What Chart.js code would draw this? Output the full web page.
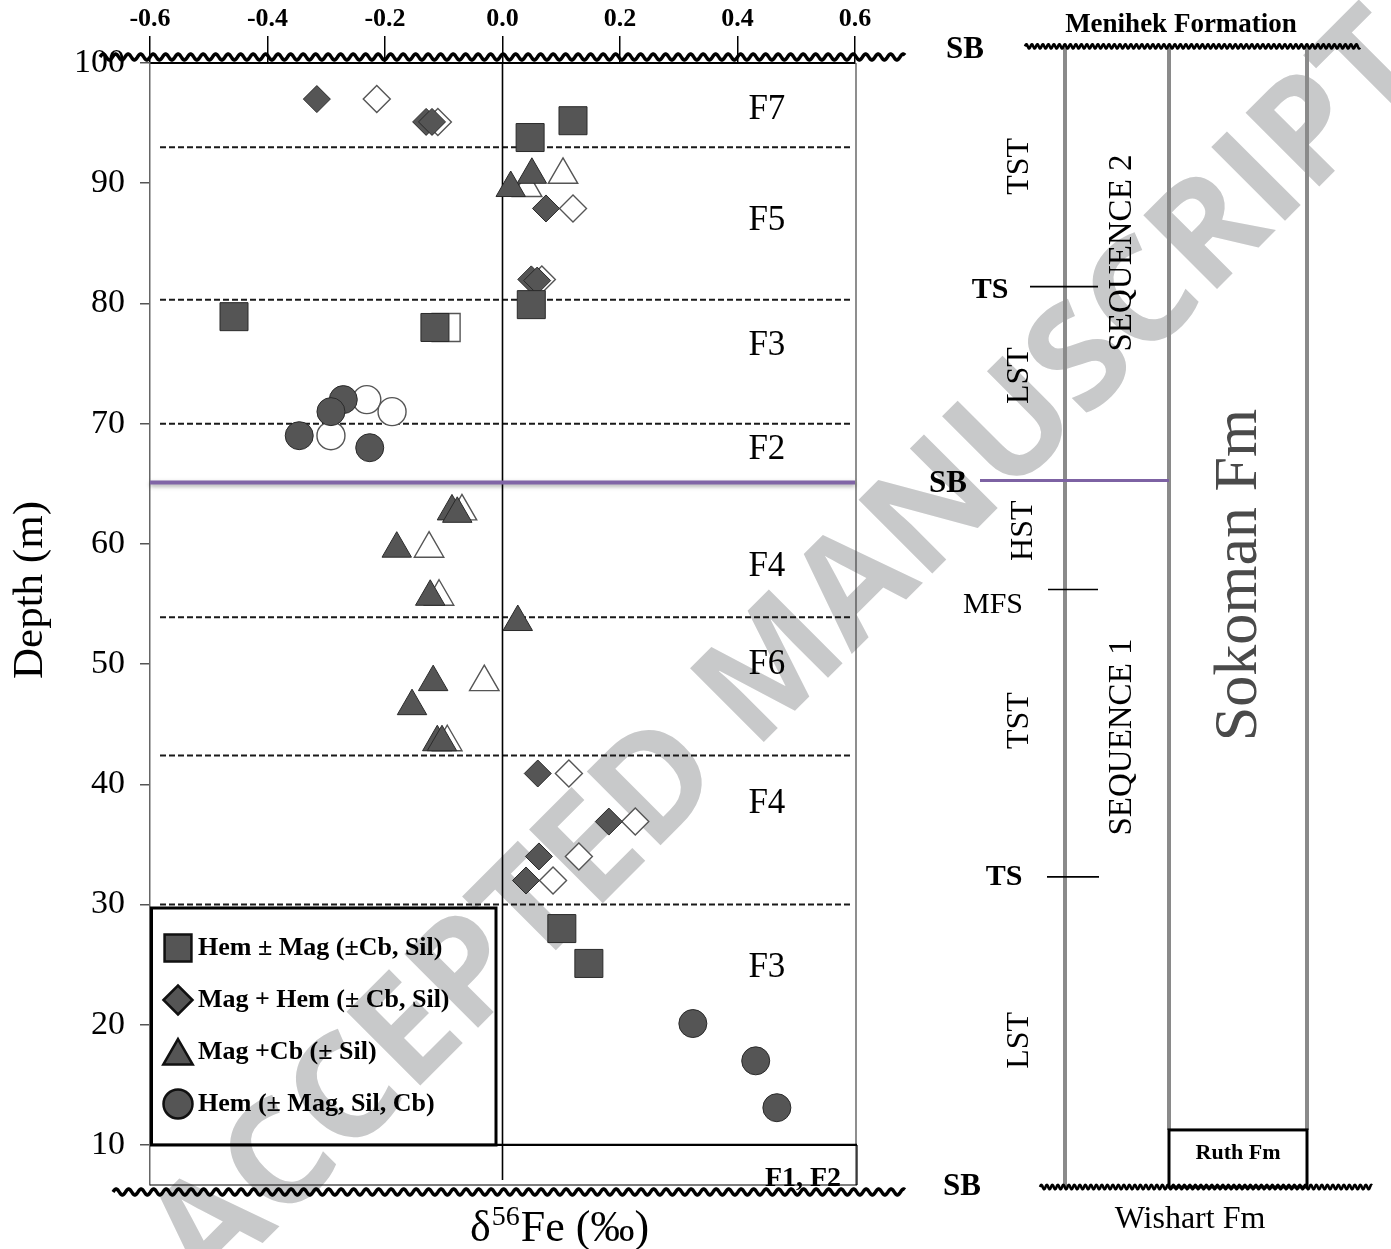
<!DOCTYPE html>
<html><head><meta charset="utf-8">
<script src="https://cdn.jsdelivr.net/npm/chart.js@4.4.1/dist/chart.umd.min.js"></script>
<style>html,body{margin:0;padding:0;background:#fff;overflow:hidden}#wrap{width:1391px;height:1249px;position:relative}</style>
</head><body><div id="wrap"><canvas id="c"></canvas></div>
<script>
// ---------- data ----------
const xTicks = [-0.6, -0.4, -0.2, 0.0, 0.2, 0.4, 0.6];
const yTicks = [10, 20, 30, 40, 50, 60, 70, 80, 90, 100];
const seriesNames = ['Hem \u00b1 Mag (\u00b1Cb, Sil)', 'Mag + Hem (\u00b1 Cb, Sil)', 'Mag +Cb (\u00b1 Sil)', 'Hem (\u00b1 Mag, Sil, Cb)'];

const hemMagX = [0.120, 0.047, -0.457, -0.115, 0.049, 0.101, 0.147];
const hemMagY = [95.2, 93.8, 78.9, 78.0, 79.9, 28.0, 25.1];
const hemMagOpenX = [-0.096];
const hemMagOpenY = [78.0];

const magHemX = [-0.316, -0.130, -0.120, 0.074, 0.049, 0.059, 0.060, 0.181, 0.062, 0.040];
const magHemY = [97.0, 95.1, 95.1, 87.9, 82.0, 81.9, 40.9, 36.9, 34.0, 32.0];
const magHemOpenX = [-0.214, -0.110, 0.120, 0.067, 0.113, 0.226, 0.130, 0.086];
const magHemOpenY = [97.0, 95.1, 87.9, 82.0, 40.9, 36.9, 34.0, 32.0];

const magCbX = [0.050, 0.014, -0.086, -0.077, -0.180, -0.123, 0.026, -0.118, -0.154, -0.111, -0.103];
const magCbY = [90.7, 89.6, 62.7, 62.5, 59.6, 55.6, 53.5, 48.5, 46.5, 43.5, 43.5];
const magCbOpenX = [0.103, 0.042, -0.069, -0.125, -0.108, -0.031, -0.094];
const magCbOpenY = [90.7, 89.6, 62.7, 59.6, 55.6, 48.5, 43.5];

const hemX = [-0.271, -0.292, -0.346, -0.226, 0.324, 0.431, 0.467];
const hemY = [72.0, 71.0, 69.0, 68.0, 20.1, 17.0, 13.1];
const hemOpenX = [-0.231, -0.188, -0.292];
const hemOpenY = [72.0, 71.0, 69.0];

const faciesBoundaries = [93.0, 80.3, 70.0, 53.9, 42.4, 30.0];
const sequenceBoundary = 65.1;
const baseDepth = 10;
const zoneLabels = ['F7', 'F5', 'F3', 'F2', 'F4', 'F6', 'F4', 'F3'];
const zoneDepths = [96.1, 86.9, 76.5, 67.8, 58.1, 49.9, 38.4, 24.7];

// stratigraphic column (depths)
const stratTop = 101.3, stratBase = 6.5, ruthTop = 11.25;
const surfaceNames = ['TS', 'MFS', 'TS'];
const surfaceDepths = [81.4, 56.2, 32.3];
const tractNames = ['TST', 'LST', 'HST', 'TST', 'LST'];
const tractDepths = [91.4, 74.0, 61.1, 45.3, 18.7];

// ---------- style ----------
const SERIF = '"Liberation Serif", "Times New Roman", serif';
const FILL = '#555555';

function ds(label, xs, ys, style, radius, filled) {
  return {
    label,
    data: xs.map((x, i) => ({ x, y: ys[i] })),
    pointStyle: style,
    pointRadius: radius,
    pointHoverRadius: radius,
    pointBackgroundColor: filled ? FILL : '#ffffff',
    pointBorderColor: filled ? '#2a2a2a' : '#555555',
    pointBorderWidth: filled ? 1 : 1.4,
    showLine: false
  };
}

const datasets = [
  ds(seriesNames[0], hemMagX, hemMagY, 'rect', 19.8, true),
  ds(seriesNames[1], magHemX, magHemY, 'rectRot', 13.5, true),
  ds(seriesNames[2], magCbX, magCbY, 'triangle', 17, true),
  ds(seriesNames[3], hemX, hemY, 'circle', 14, true),
  ds(seriesNames[0] + ' (open)', hemMagOpenX, hemMagOpenY, 'rect', 19.8, false),
  ds(seriesNames[1] + ' (open)', magHemOpenX, magHemOpenY, 'rectRot', 13.5, false),
  ds(seriesNames[2] + ' (open)', magCbOpenX, magCbOpenY, 'triangle', 17, false),
  ds(seriesNames[3] + ' (open)', hemOpenX, hemOpenY, 'circle', 14, false)
];

function wavy(ctx, x0, x1, yc, amp, period, lw) {
  ctx.save();
  ctx.beginPath();
  for (let x = x0; x <= x1; x += 0.5) {
    const y = yc - amp * Math.sin(2 * Math.PI * (x - x0) / period);
    if (x === x0) ctx.moveTo(x, y); else ctx.lineTo(x, y);
  }
  ctx.strokeStyle = '#000';
  ctx.lineWidth = lw;
  ctx.lineJoin = 'round';
  ctx.stroke();
  ctx.restore();
}
function line(ctx, x0, y0, x1, y1) { ctx.beginPath(); ctx.moveTo(x0, y0); ctx.lineTo(x1, y1); ctx.stroke(); }
function rtext(ctx, t, x, y, font, color) {
  ctx.save(); ctx.translate(x, y); ctx.rotate(-Math.PI / 2);
  ctx.font = font; ctx.fillStyle = color || '#000'; ctx.textAlign = 'center'; ctx.textBaseline = 'middle';
  ctx.fillText(t, 0, 0); ctx.restore();
}
function text(ctx, t, x, y, font, align, color) {
  ctx.font = font; ctx.fillStyle = color || '#000'; ctx.textAlign = align || 'center'; ctx.textBaseline = 'middle';
  ctx.fillText(t, x, y);
}

const deco = {
  id: 'deco',
  beforeDraw(chart) {
    const ctx = chart.ctx;
    ctx.save();
    ctx.fillStyle = '#fff';
    ctx.fillRect(0, 0, chart.width, chart.height);
    // watermark
    ctx.save();
    ctx.translate(792, 655);
    ctx.rotate(-Math.PI / 4);
    ctx.font = 'bold 146px "Open Sans", "DejaVu Sans", sans-serif';
    ctx.fillStyle = '#c8c9ca';
    ctx.textAlign = 'center'; ctx.textBaseline = 'middle';
    ctx.fillText('ACCEPTED MANUSCRIPT', 0, 0);
    ctx.restore();
    // wavy unconformities of the plot
    wavy(ctx, 100, 905, 57, 3, 12.5, 3.5);
    wavy(ctx, 113, 905, 1192, 3, 12.5, 3.5);
    ctx.restore();
  },
  beforeDatasetsDraw(chart) {
    const ctx = chart.ctx, a = chart.chartArea;
    const xs = chart.scales.x, ys = chart.scales.y;
    ctx.save();
    // facies boundaries
    ctx.strokeStyle = '#1a1a1a'; ctx.lineWidth = 2; ctx.setLineDash([6, 3]);
    faciesBoundaries.forEach(d => { const y = ys.getPixelForValue(d); line(ctx, a.left + 10, y, a.right - 2, y); });
    ctx.setLineDash([]);
    // right border
    ctx.strokeStyle = '#444'; ctx.lineWidth = 1.2;
    line(ctx, a.right + 1, a.top, a.right + 1, a.bottom);
    // zero line
    ctx.strokeStyle = '#000'; ctx.lineWidth = 1.6;
    const x0 = xs.getPixelForValue(0);
    line(ctx, x0, a.top, x0, a.bottom - 5);
    // base box (F1, F2)
    const yb = ys.getPixelForValue(baseDepth);
    ctx.lineWidth = 2.2; line(ctx, a.left, yb, a.right + 2, yb);
    ctx.lineWidth = 1.2; line(ctx, a.left, a.bottom, a.right + 2, a.bottom);
    line(ctx, a.right + 2, yb, a.right + 2, a.bottom);
    ctx.font = 'bold 28px ' + SERIF; ctx.fillStyle = '#000'; ctx.textAlign = 'center'; ctx.textBaseline = 'alphabetic';
    ctx.fillText('F1, F2', 803, a.bottom + 1);
    // sequence boundary
    ctx.save();
    ctx.shadowColor = 'rgba(0,0,0,0.35)'; ctx.shadowBlur = 4; ctx.shadowOffsetY = 2;
    ctx.strokeStyle = '#8064a6'; ctx.lineWidth = 4;
    const ysb = ys.getPixelForValue(sequenceBoundary);
    line(ctx, a.left, ysb, a.right, ysb);
    ctx.restore();
    // facies labels
    zoneLabels.forEach((t, i) => text(ctx, t, xs.getPixelForValue(0.45), ys.getPixelForValue(zoneDepths[i]), '35px ' + SERIF));
    ctx.restore();
  },
  afterDraw(chart) {
    const ctx = chart.ctx, a = chart.chartArea, ys = chart.scales.y;
    const H = Chart.helpers;
    ctx.save();
    // legend
    ctx.strokeStyle = '#000'; ctx.lineWidth = 3;
    ctx.strokeRect(151.5, 908, 344.5, 237);
    const styles = ['rect', 'rectRot', 'triangle', 'circle'];
    const radii = [19, 14.5, 17, 14.5];
    const rows = [948, 1000, 1052, 1104];
    const offs = [0, 0, 4, 0];
    styles.forEach((s, i) => {
      ctx.fillStyle = FILL; ctx.strokeStyle = '#111'; ctx.lineWidth = 2.5;
      H.drawPoint(ctx, { pointStyle: s, radius: radii[i], rotation: 0, borderWidth: 2.5 }, 178, rows[i] + offs[i]);
      text(ctx, seriesNames[i], 198, rows[i], 'bold 26px ' + SERIF, 'left');
    });
    // axis titles
    rtext(ctx, 'Depth (m)', 31, 590, '43px ' + SERIF);
    ctx.textBaseline = 'alphabetic'; ctx.textAlign = 'left'; ctx.fillStyle = '#000';
    ctx.font = '44px ' + SERIF; ctx.fillText('\u03b4', 470, 1241);
    const dW = ctx.measureText('\u03b4').width;
    ctx.font = '28px ' + SERIF; ctx.fillText('56', 470 + dW + 1, 1225);
    const sW = ctx.measureText('56').width;
    ctx.font = '44px ' + SERIF; ctx.fillText('Fe (\u2030)', 470 + dW + sW + 2, 1241);

    // ---------- stratigraphic column ----------
    const yTop = ys.getPixelForValue(stratTop), yBase = ys.getPixelForValue(stratBase), yRuth = ys.getPixelForValue(ruthTop);
    ctx.strokeStyle = '#8a8a8a'; ctx.lineWidth = 4;
    line(ctx, 1065, yTop, 1065, yBase);
    line(ctx, 1169, yTop, 1169, yRuth);
    line(ctx, 1307, yTop, 1307, yRuth);
    wavy(ctx, 1025, 1360, yTop - 1, 2.2, 5.5, 2.6);
    wavy(ctx, 1040, 1372, yBase, 2.2, 5.5, 2.6);
    ctx.strokeStyle = '#000'; ctx.lineWidth = 3;
    ctx.strokeRect(1169, yRuth, 138, yBase - yRuth);
    text(ctx, 'Ruth Fm', 1238, yRuth + 23, 'bold 22px ' + SERIF);
    text(ctx, 'Menihek Formation', 1181, 25, 'bold 27px ' + SERIF);
    text(ctx, 'Wishart Fm', 1190, 1220, '32px ' + SERIF);
    // sequence boundaries
    text(ctx, 'SB', 965, yTop + 3, 'bold 31px ' + SERIF);
    const ysb = ys.getPixelForValue(sequenceBoundary);
    ctx.strokeStyle = '#7d62a3'; ctx.lineWidth = 3;
    line(ctx, 980, ysb - 2, 1169, ysb - 2);
    text(ctx, 'SB', 948, ysb + 1, 'bold 31px ' + SERIF);
    text(ctx, 'SB', 962, yBase, 'bold 31px ' + SERIF);
    // surfaces
    const surfX = [[990, 1030, 1098], [993, 1048, 1098], [1004, 1047, 1099]];
    const surfDy = [4, 16, 0];
    ctx.strokeStyle = '#000'; ctx.lineWidth = 1.6;
    surfaceNames.forEach((t, i) => {
      const y = ys.getPixelForValue(surfaceDepths[i]);
      line(ctx, surfX[i][1], y, surfX[i][2], y);
      text(ctx, t, surfX[i][0], y + surfDy[i], (t === 'MFS' ? '' : 'bold ') + '30px ' + SERIF);
    });
    tractNames.forEach((t, i) => rtext(ctx, t, i === 2 ? 1024 : 1020, ys.getPixelForValue(tractDepths[i]), '32px ' + SERIF));
    rtext(ctx, 'SEQUENCE 2', 1122, 253, '33px ' + SERIF);
    rtext(ctx, 'SEQUENCE 1', 1122, 737, '33px ' + SERIF);
    rtext(ctx, 'Sokoman Fm', 1240, 575, '62px ' + SERIF, '#4a4a4a');
    ctx.restore();
  }
};

new Chart(document.getElementById('c'), {
  type: 'scatter',
  data: { datasets },
  plugins: [deco],
  options: {
    responsive: true, maintainAspectRatio: false, animation: false, events: [],
    layout: { padding: { left: 0, top: 0, right: 536, bottom: 64 } },
    plugins: { legend: { display: false }, tooltip: { enabled: false } },
    scales: {
      x: {
        type: 'linear', position: 'top', min: -0.6, max: 0.6,
        afterBuildTicks: s => { s.ticks = xTicks.map(v => ({ value: v })); },
        afterFit: s => { s.height = 63; },
        ticks: { font: { family: SERIF, size: 26, weight: 'bold' }, color: '#000', padding: 1, maxRotation: 0, autoSkip: false,
                 callback: v => Number(v).toFixed(1) },
        grid: { drawOnChartArea: false, drawTicks: true, tickLength: 27, color: '#000', lineWidth: 1.5 },
        border: { display: true, color: '#000', width: 2 }
      },
      y: {
        type: 'linear', min: 6.67, max: 100,
        afterBuildTicks: s => { s.ticks = yTicks.map(v => ({ value: v })); },
        afterFit: s => { s.width = 150; },
        ticks: { font: { family: SERIF, size: 34 }, color: '#000', padding: 15, autoSkip: false, callback: v => String(v) },
        grid: { drawOnChartArea: false, drawTicks: true, tickLength: 10, color: '#555', lineWidth: 1.5 },
        border: { display: true, color: '#666', width: 1.5 }
      }
    }
  }
});
</script></body></html>
